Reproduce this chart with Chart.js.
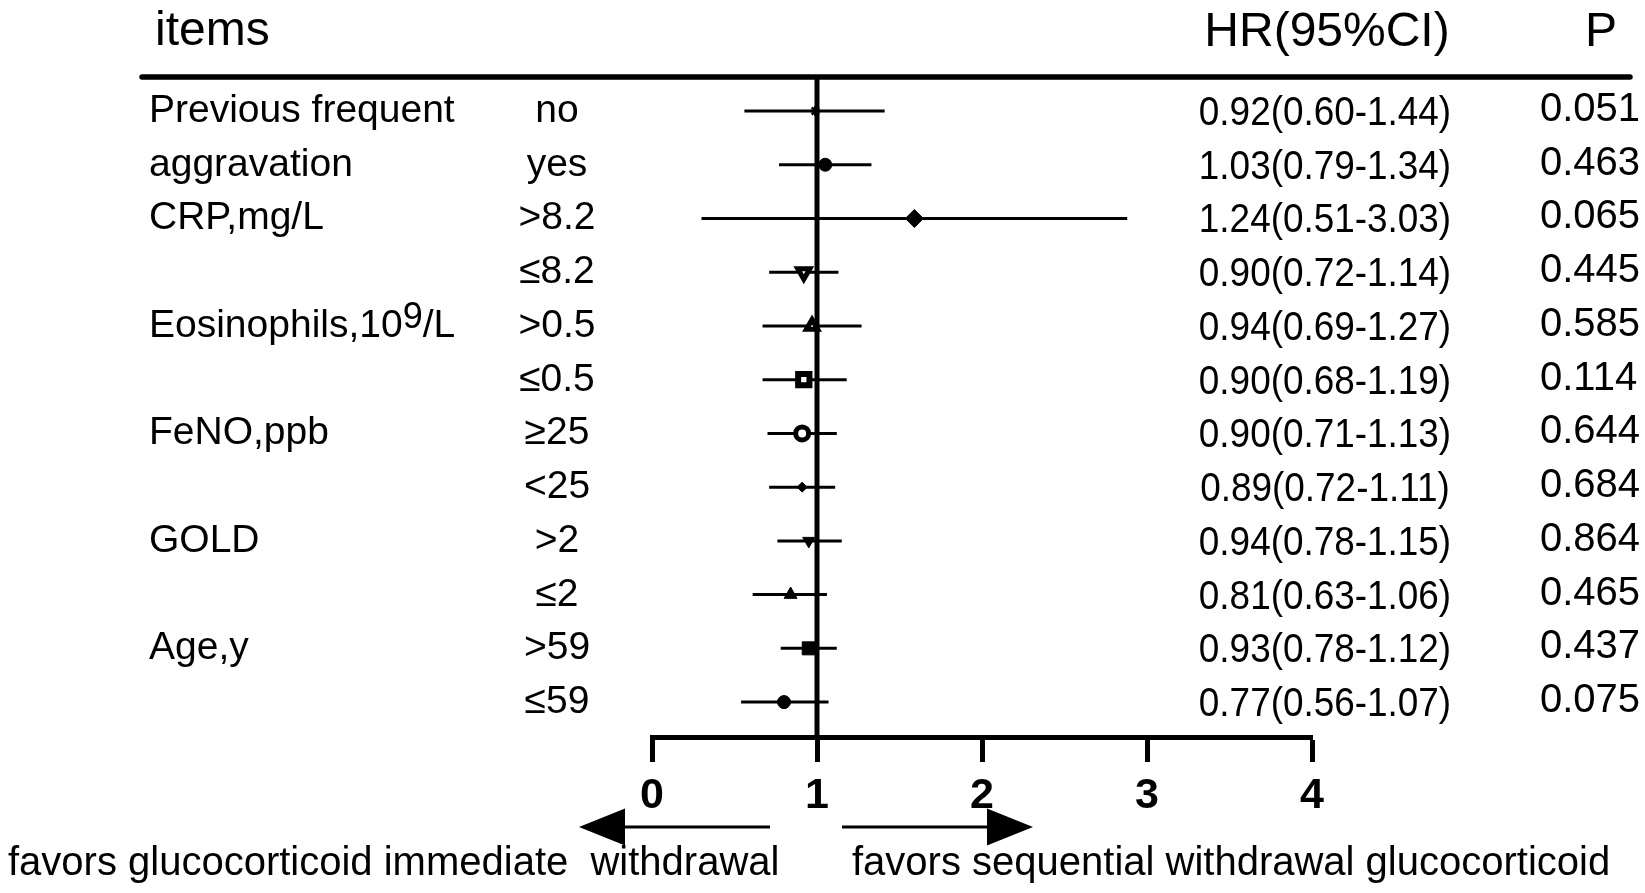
<!DOCTYPE html>
<html>
<head>
<meta charset="utf-8">
<title>Forest plot</title>
<script src="https://cdn.jsdelivr.net/npm/chart.js@4.4.1/dist/chart.umd.min.js"></script>
<style>
  html, body { margin: 0; padding: 0; background: #fff; }
  #wrap { width: 1645px; height: 893px; position: relative; }
</style>
</head>
<body>
<div id="wrap"><canvas id="forest"></canvas></div>
<script>
// row labels
const groups = ['Previous frequent', 'aggravation', 'CRP,mg/L', '', 'Eosinophils,10^9/L', '', 'FeNO,ppb', '', 'GOLD', '', 'Age,y', ''];
const subgroups = ['no', 'yes', '>8.2', '≤8.2', '>0.5', '≤0.5', '≥25', '<25', '>2', '≤2', '>59', '≤59'];

// plotted estimates, read off the marks
const hrPoint = [0.99, 1.05, 1.59, 0.92, 0.97, 0.92, 0.91, 0.91, 0.95, 0.84, 0.95, 0.80];
const ciLow = [0.56, 0.77, 0.30, 0.71, 0.67, 0.67, 0.70, 0.71, 0.76, 0.61, 0.78, 0.54];
const ciHigh = [1.41, 1.33, 2.88, 1.13, 1.27, 1.18, 1.12, 1.11, 1.15, 1.06, 1.12, 1.07];

// printed columns
const hrText = ['0.92(0.60-1.44)', '1.03(0.79-1.34)', '1.24(0.51-3.03)', '0.90(0.72-1.14)', '0.94(0.69-1.27)',
  '0.90(0.68-1.19)', '0.90(0.71-1.13)', '0.89(0.72-1.11)', '0.94(0.78-1.15)', '0.81(0.63-1.06)',
  '0.93(0.78-1.12)', '0.77(0.56-1.07)'];
const pText = ['0.051', '0.463', '0.065', '0.445', '0.585', '0.114', '0.644', '0.684', '0.864', '0.465', '0.437', '0.075'];

const xTicks = [0, 1, 2, 3, 4];
const refValue = 1;
const leftNote = 'favors glucocorticoid immediate  withdrawal';
const rightNote = 'favors sequential withdrawal glucocorticoid';

// marker look per row
const markerStyle = ['star', 'circle', 'rectRot', 'triangle', 'triangle', 'rect', 'circle', 'rectRot', 'triangle', 'triangle', 'rect', 'circle'];
const markerSize = [5, 6.5, 9, 7, 6.5, 8, 6.5, 5, 7, 7.5, 9.2, 6.5];
const markerRot = [0, 0, 0, 180, 0, 0, 0, 0, 180, 0, 0, 0];
const markerFill = ['#000', '#000', '#000', '#fff', '#fff', '#fff', '#fff', '#000', '#000', '#000', '#000', '#000'];
const markerBorder = [2.5, 1, 1, 5, 5, 6, 5, 1, 1, 1, 1, 1];

const FONT = '"Liberation Sans", Arial, Helvetica, sans-serif';
const Y_MIN = -0.633, Y_MAX = 11.65;

function drawLabel(ctx, text, x, y, size) {
  const m = text.match(/^(.*)\^(\d+)(.*)$/);
  if (!m) { ctx.fillText(text, x, y); return; }
  ctx.fillText(m[1], x, y);
  let w = ctx.measureText(m[1]).width;
  const base = ctx.font;
  ctx.font = Math.round(size * 0.92) + 'px ' + FONT;
  ctx.fillText(m[2], x + w, y - 9);
  w += ctx.measureText(m[2]).width;
  ctx.font = base;
  ctx.fillText(m[3], x + w, y);
}

const tablePlugin = {
  id: 'forestTable',
  afterDraw(chart) {
    const ctx = chart.ctx;
    const yScale = chart.scales.y;
    const area = chart.chartArea;
    ctx.save();
    ctx.fillStyle = '#000';
    ctx.strokeStyle = '#000';

    // header
    ctx.font = '48px ' + FONT;
    ctx.textBaseline = 'alphabetic';
    ctx.textAlign = 'left';
    ctx.fillText('items', 155, 45);
    ctx.textAlign = 'center';
    ctx.fillText('HR(95%CI)', 1327, 46);
    ctx.textAlign = 'left';
    ctx.fillText('P', 1585, 46);

    // rule under header
    ctx.lineWidth = 5.5;
    ctx.lineCap = 'round';
    ctx.beginPath();
    ctx.moveTo(142, area.top);
    ctx.lineTo(1630, area.top);
    ctx.stroke();

    // row texts
    subgroups.forEach((sub, i) => {
      const y = yScale.getPixelForValue(i);
      ctx.font = '39px ' + FONT;
      ctx.textAlign = 'left';
      if (groups[i]) drawLabel(ctx, groups[i], 149, y + 11, 39);
      ctx.textAlign = 'center';
      ctx.fillText(sub, 557, y + 11);

      ctx.font = '41px ' + FONT;
      ctx.save();
      ctx.translate(1325, y + 14);
      ctx.scale(0.9, 1);
      ctx.textAlign = 'center';
      ctx.fillText(hrText[i], 0, 0);
      ctx.restore();

      ctx.font = '40px ' + FONT;
      ctx.textAlign = 'left';
      ctx.fillText(pText[i], 1540, y + 10);
    });

    // direction arrows
    const ay = 827;
    ctx.lineWidth = 3;
    ctx.lineCap = 'butt';
    ctx.beginPath();
    ctx.moveTo(770, ay); ctx.lineTo(620, ay);
    ctx.moveTo(842, ay); ctx.lineTo(990, ay);
    ctx.stroke();
    ctx.beginPath();
    ctx.moveTo(579, ay); ctx.lineTo(625, ay - 18.5); ctx.lineTo(625, ay + 18.5); ctx.closePath();
    ctx.moveTo(1033, ay); ctx.lineTo(987, ay - 18.5); ctx.lineTo(987, ay + 18.5); ctx.closePath();
    ctx.fill();

    // direction notes
    ctx.font = '40px ' + FONT;
    ctx.textAlign = 'left';
    ctx.fillText(leftNote, 8, 875);
    ctx.fillText(rightNote, 852, 875);
    ctx.restore();
  }
};

const ciSets = subgroups.map((sub, i) => ({
  label: sub,
  data: [{ x: ciLow[i], y: i }, { x: ciHigh[i], y: i }],
  showLine: true,
  borderColor: '#000',
  borderWidth: 3,
  pointRadius: 0,
  borderCapStyle: 'butt'
}));

new Chart(document.getElementById('forest'), {
  type: 'scatter',
  data: {
    datasets: [
      {
        label: 'HR',
        data: hrPoint.map((v, i) => ({ x: v, y: i })),
        pointStyle: markerStyle,
        pointRadius: markerSize,
        pointRotation: markerRot,
        pointBackgroundColor: markerFill,
        pointBorderColor: '#000',
        pointBorderWidth: markerBorder,
        showLine: false
      },
      ...ciSets,
      {
        label: 'ref',
        data: [{ x: refValue, y: Y_MIN }, { x: refValue, y: Y_MAX }],
        showLine: true,
        borderColor: '#000',
        borderWidth: 5,
        pointRadius: 0
      }
    ]
  },
  options: {
    responsive: true,
    maintainAspectRatio: false,
    animation: false,
    events: [],
    clip: false,
    layout: { padding: { left: 652, right: 333, top: 77, bottom: 76 } },
    plugins: { legend: { display: false }, tooltip: { enabled: false } },
    scales: {
      x: {
        type: 'linear',
        min: xTicks[0],
        max: xTicks[xTicks.length - 1],
        position: 'bottom',
        border: { display: true, width: 5, color: '#000' },
        grid: { display: true, drawOnChartArea: false, drawTicks: true, tickLength: 25, tickWidth: 5, tickColor: '#000' },
        ticks: {
          stepSize: 1,
          color: '#000',
          padding: 8,
          font: { family: FONT, size: 43, weight: 'bold' }
        },
        afterBuildTicks: (scale) => { scale.ticks = xTicks.map(v => ({ value: v })); },
        afterFit: (scale) => { scale.height = 80; scale.paddingLeft = 0; scale.paddingRight = 0; }
      },
      y: {
        type: 'linear',
        reverse: true,
        min: Y_MIN,
        max: Y_MAX,
        display: false
      }
    }
  },
  plugins: [tablePlugin]
});
</script>
</body>
</html>
